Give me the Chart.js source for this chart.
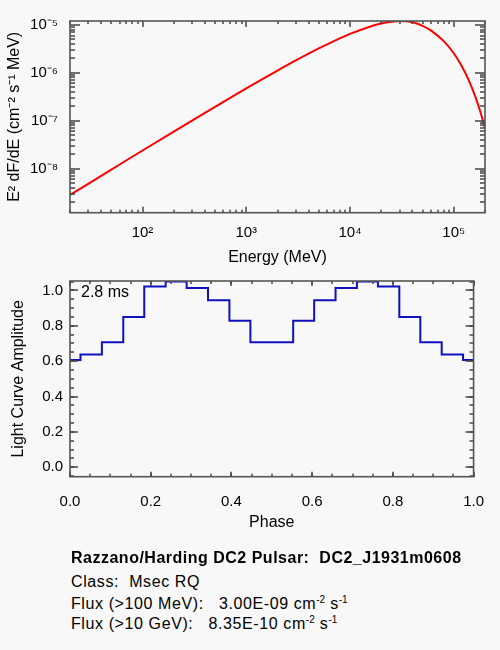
<!DOCTYPE html>
<html>
<head>
<meta charset="utf-8">
<script src="https://cdn.jsdelivr.net/npm/chart.js@4.4.0/dist/chart.umd.min.js"></script>
<style>
  body { margin: 0; background: #f8f8f8; }
  #wrap { position: relative; width: 500px; height: 650px; background: #f8f8f8;
          font-family: 'Liberation Sans', Arial, sans-serif; color: #000; }
  canvas { position: absolute; left: 0; }
  #spec { top: 0; }
  #lc { top: 265px; }
  .note { position: absolute; left: 71px; font-size: 16px; line-height: 1; white-space: pre; letter-spacing: 0.6px; }
  .note sup { font-size: 10px; vertical-align: 6px; line-height: 0; letter-spacing: 0; }
  #period { position: absolute; left: 81px; top: 284px; font-size: 16px; line-height: 1; }
</style>
</head>
<body>
<div id="wrap">
  <canvas id="spec" width="500" height="267"></canvas>
  <canvas id="lc" width="500" height="275"></canvas>
  <div id="period">2.8 ms</div>
  <div class="note" style="top:550px;font-weight:bold;letter-spacing:0.5px">Razzano/Harding DC2 Pulsar:  DC2_J1931m0608</div>
  <div class="note" style="top:574px">Class:  Msec RQ</div>
  <div class="note" style="top:596px">Flux (&gt;100 MeV):   3.00E-09 cm<sup>-2</sup> s<sup>-1</sup></div>
  <div class="note" style="top:616px">Flux (&gt;10 GeV):   8.35E-10 cm<sup>-2</sup> s<sup>-1</sup></div>
</div>
<script>
// upper panel: spectrum
const energy = [20, 50, 100, 200, 500, 1000, 2000, 3000, 5000, 7000, 10000, 15000, 20000, 25000,
                30000, 35000, 40000, 50000, 60000, 80000, 100000, 120000, 140000, 160000, 180000, 200000];
const e2dfde = [2.81e-9, 9.51e-9, 2.39e-8, 5.9e-8, 1.95e-7, 4.76e-7, 1.117e-6, 1.816e-6, 3.236e-6,
                4.6e-6, 6.5e-6, 8.99e-6, 1.069e-5, 1.164e-5, 1.208e-5, 1.189e-5, 1.135e-5, 9.59e-6,
                7.71e-6, 4.59e-6, 2.57e-6, 1.358e-6, 6.89e-7, 3.35e-7, 1.56e-7, 7.05e-8];
const energyTicks = [1e2, 1e3, 1e4, 1e5];
const fluxTicks = [1e-8, 1e-7, 1e-6, 1e-5];

// lower panel: light curve, start of each phase bin and its amplitude
const binStart = [0.000, 0.026, 0.079, 0.132, 0.184, 0.237, 0.289, 0.342, 0.395, 0.447,
                  0.553, 0.605, 0.658, 0.711, 0.763, 0.816, 0.868, 0.921, 0.974];
const amplitude = [0.607, 0.637, 0.707, 0.850, 1.022, 1.050, 1.013, 0.944, 0.828, 0.707,
                   0.828, 0.944, 1.013, 1.050, 1.022, 0.850, 0.707, 0.637, 0.607];
const phaseTicks = [0, 0.2, 0.4, 0.6, 0.8, 1.0];
const ampTicks = [0, 0.2, 0.4, 0.6, 0.8, 1.0];

const FAMILY = "'Liberation Sans', Arial, sans-serif";
const tickFont = { family: FAMILY, size: 15 };
const titleFont = { family: FAMILY, size: 16 };

const supMap = {'0':'⁰','1':'¹','2':'²','3':'³','4':'⁴','5':'⁵','6':'⁶','7':'⁷','8':'⁸','9':'⁹','-':'⁻'};
const sup = n => String(n).split('').map(c => supMap[c]).join('');

function logMinor(min, max) {
  const out = [];
  for (let k = Math.floor(Math.log10(min)); k <= Math.ceil(Math.log10(max)); k++) {
    for (let m = 2; m <= 9; m++) {
      const v = m * Math.pow(10, k);
      if (v >= min && v <= max) out.push(v);
    }
  }
  return out;
}
function linMinor(min, max, step) {
  const out = [];
  for (let v = Math.ceil(min / step) * step; v <= max + 1e-9; v += step) out.push(v);
  return out;
}

// IDL style frame with inward ticks on all four sides
function frameTicks(cfg) {
  return {
    id: 'frameTicks',
    afterDraw(chart) {
      const {ctx, chartArea: a} = chart;
      const xs = chart.scales.x, ys = chart.scales.y;
      ctx.save();
      ctx.fillStyle = '#444';
      cfg.xMajor.concat(cfg.xMinor).forEach((v, i) => {
        const len = i < cfg.xMajor.length ? cfg.xMajorLen : cfg.xMinorLen;
        const p = Math.round(xs.getPixelForValue(v));
        ctx.fillRect(p - 0.75, a.bottom - len, 1.5, len);
        ctx.fillRect(p - 0.75, a.top, 1.5, len);
      });
      cfg.yMajor.concat(cfg.yMinor).forEach((v, i) => {
        const len = i < cfg.yMajor.length ? cfg.yMajorLen : cfg.yMinorLen;
        const p = Math.round(ys.getPixelForValue(v));
        ctx.fillRect(a.left, p - 0.75, len, 1.5);
        ctx.fillRect(a.right - len, p - 0.75, len, 1.5);
      });
      ctx.strokeStyle = '#555';
      ctx.lineWidth = 1.6;
      ctx.strokeRect(a.left, a.top, a.right - a.left, a.bottom - a.top);
      ctx.restore();
    }
  };
}

// spectrum
new Chart(document.getElementById('spec'), {
  type: 'line',
  data: {
    datasets: [{
      data: energy.map((e, i) => ({x: e, y: e2dfde[i]})),
      borderColor: '#ff0000',
      borderWidth: 2,
      pointRadius: 0,
      cubicInterpolationMode: 'monotone'
    }]
  },
  options: {
    responsive: false,
    animation: false,
    layout: { padding: { top: 12, right: 15, left: 0, bottom: 0 } },
    plugins: { legend: { display: false } },
    scales: {
      x: {
        type: 'logarithmic', min: 20, max: 200000,
        grid: { display: false, drawTicks: false }, border: { display: false },
        afterBuildTicks: s => { s.ticks = energyTicks.map(v => ({value: v})); },
        afterFit: s => { s.height = 54.3; },
        ticks: { padding: 11, maxRotation: 0, autoSkip: false, font: tickFont, color: '#000',
                 callback: v => '10' + sup(Math.round(Math.log10(v))) },
        title: { display: true, text: 'Energy (MeV)', padding: 0, font: titleFont, color: '#000' }
      },
      y: {
        type: 'logarithmic', min: 1.2e-9, max: 1.21e-5,
        grid: { display: false, drawTicks: false }, border: { display: false },
        afterBuildTicks: s => { s.ticks = fluxTicks.map(v => ({value: v})); },
        afterFit: s => { s.width = 70; },
        ticks: { padding: 12, autoSkip: false, font: tickFont, color: '#000',
                 callback: v => '10' + sup(Math.round(Math.log10(v))) },
        title: { display: true, text: 'E² dF/dE (cm⁻² s⁻¹ MeV)', padding: 5, font: titleFont, color: '#000' }
      }
    }
  },
  plugins: [frameTicks({
    xMajor: energyTicks, xMinor: logMinor(20, 200000), xMajorLen: 6, xMinorLen: 3,
    yMajor: fluxTicks, yMinor: logMinor(1.2e-9, 1.21e-5), yMajorLen: 10, yMinorLen: 5
  })]
});

// light curve
const lcPoints = binStart.map((p, i) => ({x: p, y: amplitude[i]}));
lcPoints.push({x: 1, y: amplitude[amplitude.length - 1]});

new Chart(document.getElementById('lc'), {
  type: 'line',
  data: {
    datasets: [{
      data: lcPoints,
      borderColor: '#1010c0',
      borderWidth: 2,
      pointRadius: 0,
      stepped: 'before'
    }]
  },
  options: {
    responsive: false,
    animation: false,
    layout: { padding: { top: 12.5, right: 15, left: 0, bottom: 0 } },
    plugins: { legend: { display: false } },
    scales: {
      x: {
        type: 'linear', min: 0, max: 1,
        grid: { display: false, drawTicks: false }, border: { display: false },
        afterBuildTicks: s => { s.ticks = phaseTicks.map(v => ({value: v})); },
        afterFit: s => { s.height = 63.3; },
        ticks: { padding: 16, maxRotation: 0, autoSkip: false, font: tickFont, color: '#000',
                 callback: v => v.toFixed(1) },
        title: { display: true, text: 'Phase', padding: 8, font: titleFont, color: '#000' }
      },
      y: {
        type: 'linear', min: -0.053, max: 1.053,
        grid: { display: false, drawTicks: false }, border: { display: false },
        afterBuildTicks: s => { s.ticks = ampTicks.map(v => ({value: v})); },
        afterFit: s => { s.width = 70; },
        ticks: { padding: 7, autoSkip: false, font: tickFont, color: '#000',
                 callback: v => v.toFixed(1) },
        title: { display: true, text: 'Light Curve Amplitude', padding: 9, font: titleFont, color: '#000' }
      }
    }
  },
  plugins: [frameTicks({
    xMajor: phaseTicks, xMinor: linMinor(0, 1, 0.05), xMajorLen: 5, xMinorLen: 3,
    yMajor: ampTicks, yMinor: linMinor(-0.05, 1.05, 0.05), yMajorLen: 8, yMinorLen: 4
  })]
});
</script>
</body>
</html>
